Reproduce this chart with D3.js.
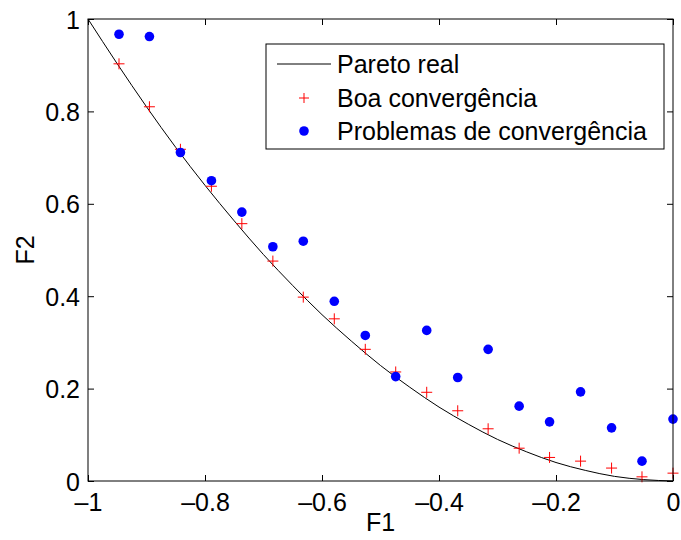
<!DOCTYPE html>
<html>
<head>
<meta charset="utf-8">
<script src="https://cdn.jsdelivr.net/npm/d3@7"></script>
<style>
  body { margin: 0; background: #fff; }
  svg { display: block; font-family: "Liberation Sans", Arial, Helvetica, sans-serif; }
</style>
</head>
<body>
<svg id="chart" width="681" height="540"></svg>
<script>
// ---- data ----
const paretoF1 = [-1, -0.95, -0.9, -0.85, -0.8, -0.75, -0.7, -0.65, -0.6, -0.55, -0.5, -0.45, -0.4, -0.35, -0.3, -0.25, -0.2, -0.15, -0.1, -0.05, 0];
const paretoF2 = [1, 0.903, 0.81, 0.722, 0.64, 0.563, 0.49, 0.423, 0.36, 0.303, 0.25, 0.203, 0.16, 0.123, 0.09, 0.063, 0.04, 0.023, 0.01, 0.003, 0];

const pointsF1 = [-0.947, -0.895, -0.842, -0.789, -0.737, -0.684, -0.632, -0.579, -0.526, -0.474, -0.421, -0.368, -0.316, -0.263, -0.211, -0.158, -0.105, -0.053, 0];
const boaF2 = [0.903, 0.810, 0.718, 0.638, 0.557, 0.476, 0.398, 0.351, 0.285, 0.236, 0.192, 0.152, 0.113, 0.071, 0.051, 0.043, 0.028, 0.009, 0.017];
const probF2 = [0.967, 0.962, 0.711, 0.650, 0.582, 0.507, 0.519, 0.389, 0.315, 0.226, 0.326, 0.224, 0.285, 0.162, 0.128, 0.193, 0.115, 0.043, 0.134];

const xTicks = [-1, -0.8, -0.6, -0.4, -0.2, 0];
const xTickLabels = ["\u20131", "\u20130.8", "\u20130.6", "\u20130.4", "\u20130.2", "0"];
const yTicks = [0, 0.2, 0.4, 0.6, 0.8, 1];
const yTickLabels = ["0", "0.2", "0.4", "0.6", "0.8", "1"];
const legendLabels = ["Pareto real", "Boa convergência", "Problemas de convergência"];

// ---- layout ----
const svg = d3.select("#chart");
const L = 88, R = 673, T = 19, B = 481;
const x = d3.scaleLinear().domain([-1, 0]).range([L, R]);
const y = d3.scaleLinear().domain([0, 1]).range([B, T]);
const fs = 25;

// Pareto curve
const pareto = paretoF1.map((v, i) => [v, paretoF2[i]]);
svg.append("path")
  .datum(pareto)
  .attr("fill", "none")
  .attr("stroke", "#000")
  .attr("stroke-width", 1)
  .attr("d", d3.line().x(d => x(d[0])).y(d => y(d[1])).curve(d3.curveMonotoneX));

// plus markers
const ps = 5.5;
const boa = pointsF1.map((v, i) => [v, boaF2[i]]);
const plus = svg.append("g").attr("stroke", "#ff0000").attr("stroke-width", 1).attr("fill", "none");
plus.selectAll("path").data(boa).join("path")
  .attr("d", d => `M${x(d[0]) - ps},${y(d[1])}H${x(d[0]) + ps}M${x(d[0])},${y(d[1]) - ps}V${y(d[1]) + ps}`);

// dots
const prob = pointsF1.map((v, i) => [v, probF2[i]]);
svg.append("g").attr("fill", "#0000ff").selectAll("circle").data(prob).join("circle")
  .attr("cx", d => x(d[0])).attr("cy", d => y(d[1])).attr("r", 4.8);

// axes box
svg.append("rect").attr("x", L).attr("y", T).attr("width", R - L).attr("height", B - T)
  .attr("fill", "none").attr("stroke", "#000").attr("stroke-width", 1);

// ticks (inward, all four sides)
const tk = 6;
const axB = d3.axisBottom(x).tickValues(xTicks).tickSizeInner(-tk).tickSizeOuter(0).tickFormat((d, i) => xTickLabels[i]);
const gB = svg.append("g").attr("transform", `translate(0,${B})`).call(axB);
const axT = d3.axisTop(x).tickValues(xTicks).tickSizeInner(-tk).tickSizeOuter(0).tickFormat("");
const gT = svg.append("g").attr("transform", `translate(0,${T})`).call(axT);
const axLft = d3.axisLeft(y).tickValues(yTicks).tickSizeInner(-tk).tickSizeOuter(0).tickFormat((d, i) => yTickLabels[i]).tickPadding(8);
const gL = svg.append("g").attr("transform", `translate(${L},0)`).call(axLft);
const axRt = d3.axisRight(y).tickValues(yTicks).tickSizeInner(-tk).tickSizeOuter(0).tickFormat("");
const gR = svg.append("g").attr("transform", `translate(${R},0)`).call(axRt);
[gB, gT, gL, gR].forEach(g => {
  g.select(".domain").remove();
  g.selectAll("line").attr("stroke", "#000");
  g.selectAll("text").attr("font-size", fs).attr("fill", "#000").attr("font-family", "Liberation Sans, Arial, sans-serif");
});
gB.selectAll("text").attr("dy", null).attr("y", 30);
gL.selectAll("text").attr("dy", "0.36em");

// axis titles
svg.append("text").attr("x", (L + R) / 2).attr("y", 531).attr("text-anchor", "middle")
  .attr("font-size", fs).text("F1");
svg.append("text").attr("transform", `translate(34,${(T + B) / 2}) rotate(-90)`)
  .attr("text-anchor", "middle").attr("font-size", fs).text("F2");

// legend
const lg = svg.append("g");
lg.append("rect").attr("x", 266).attr("y", 44).attr("width", 398).attr("height", 105)
  .attr("fill", "#fff").attr("stroke", "#000").attr("stroke-width", 1);
const rowY = [64, 98, 131];
lg.append("line").attr("x1", 277).attr("x2", 331).attr("y1", rowY[0]).attr("y2", rowY[0])
  .attr("stroke", "#000").attr("stroke-width", 1);
lg.append("path").attr("d", `M${304 - 5},${rowY[1]}H${304 + 5}M304,${rowY[1] - 5}V${rowY[1] + 5}`)
  .attr("stroke", "#ff0000").attr("stroke-width", 1);
lg.append("circle").attr("cx", 304).attr("cy", rowY[2]).attr("r", 4.8).attr("fill", "#0000ff");
lg.selectAll("text.lbl").data(legendLabels).join("text").attr("class", "lbl")
  .attr("x", 337).attr("y", (d, i) => rowY[i]).attr("dy", "0.36em")
  .attr("font-size", fs).attr("fill", "#000").text(d => d);
</script>
</body>
</html>
